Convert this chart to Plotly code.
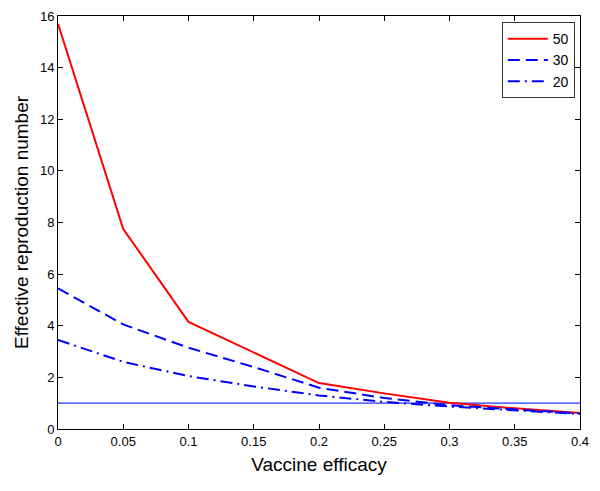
import plotly.graph_objects as go

# Vaccine efficacy grid
efficacy = [0, 0.05, 0.1, 0.15, 0.2, 0.25, 0.3, 0.35, 0.4]

# Effective reproduction number per series
r_50 = [15.7, 7.75, 4.15, 2.95, 1.78, 1.38, 1.02, 0.8, 0.62]
r_30 = [5.45, 4.05, 3.15, 2.4, 1.6, 1.2, 0.92, 0.75, 0.6]
r_20 = [3.45, 2.6, 2.05, 1.65, 1.3, 1.05, 0.87, 0.72, 0.58]

threshold = 1

BLUE = '#0000FF'
RED = '#FF0000'
FONT = 'Liberation Sans, Arial, sans-serif'

fig = go.Figure()
fig.add_trace(go.Scatter(x=[0, 0.4], y=[threshold, threshold], mode='lines',
                         line=dict(color='#2233FF', width=1.3), showlegend=False))
fig.add_trace(go.Scatter(x=efficacy, y=r_50, mode='lines', name='50',
                         line=dict(color=RED, width=2)))
fig.add_trace(go.Scatter(x=efficacy, y=r_30, mode='lines', name='30',
                         line=dict(color=BLUE, width=2, dash='12px,6px')))
fig.add_trace(go.Scatter(x=efficacy, y=r_20, mode='lines', name='20',
                         line=dict(color=BLUE, width=2, dash='12px,5px,2px,5px')))

axis_common = dict(showgrid=False, zeroline=False, showline=True, linecolor='black',
                   linewidth=1, mirror='ticks', ticks='inside', ticklen=5,
                   tickcolor='black', automargin=False,
                   tickfont=dict(size=13, color='black', family=FONT))

# the page body adds an 8px offset, so margins are trimmed to compensate
fig.update_layout(
    width=600, height=491,
    margin=dict(l=50, r=28, t=8, b=70),
    plot_bgcolor='white', paper_bgcolor='white',
    font=dict(family=FONT, color='black'),
    xaxis=dict(range=[0, 0.4], dtick=0.05, tickformat='~g',
               title=dict(text='Vaccine efficacy', font=dict(size=19), standoff=10),
               **axis_common),
    yaxis=dict(range=[0, 16], dtick=2,
               title=dict(text='Effective reproduction number', font=dict(size=19), standoff=6),
               **axis_common),
    legend=dict(x=0.99, y=0.985, xanchor='right', yanchor='top',
                bordercolor='#333333', borderwidth=1, bgcolor='white',
                tracegroupgap=4, itemwidth=40,
                font=dict(size=14, family=FONT)),
)

fig.write_html("out.html")
